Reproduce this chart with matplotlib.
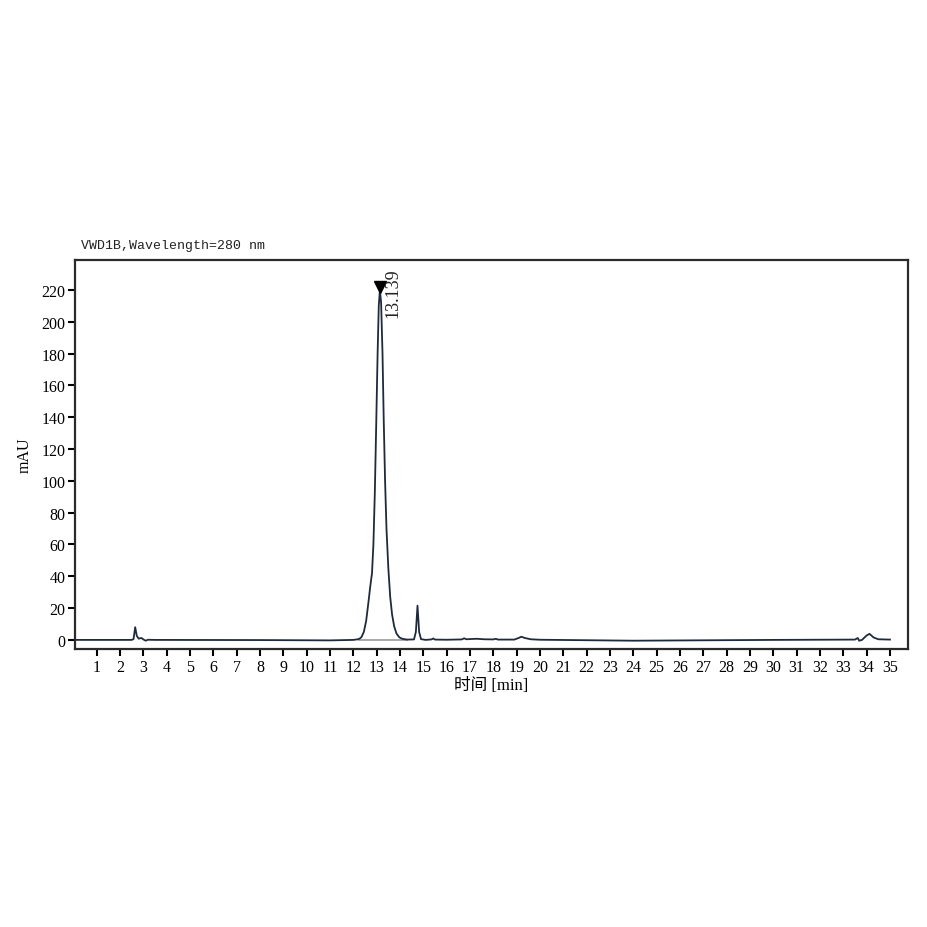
import numpy as np
import matplotlib
matplotlib.use("Agg")
import matplotlib.pyplot as plt

# chromatogram trace (time in min, signal in mAU)
time_min = [0.0, 2.5, 2.58, 2.65, 2.72, 2.8, 2.92, 3.0, 3.1, 3.2, 3.5,
            8.0, 11.0, 12.0, 12.2, 12.28, 12.35, 12.45, 12.55, 12.65, 12.72,
            12.8, 12.86, 12.92, 12.98, 13.04, 13.09, 13.139, 13.19, 13.25,
            13.3, 13.36, 13.42, 13.5, 13.58, 13.66, 13.75, 13.85, 13.97,
            14.1, 14.3, 14.6, 14.68, 14.75, 14.82, 14.9, 15.1, 15.35, 15.42,
            15.5, 16.0, 16.65, 16.75, 16.85, 17.1, 17.3, 17.6, 18.0, 18.1,
            18.2, 18.9, 19.1, 19.2, 19.35, 19.6, 20.0, 24.0, 30.0, 33.5,
            33.62, 33.68, 33.8, 34.0, 34.12, 34.3, 34.5, 35.0]
signal_mau = [0.0, 0.0, 0.5, 8.0, 2.5, 0.8, 1.2, 0.3, -0.5, 0.1, 0.0,
              -0.1, -0.3, 0.0, 0.4, 0.9, 1.8, 5.0, 12.0, 24.0, 33.0,
              42.0, 60.0, 92.0, 135.0, 180.0, 210.0, 220.0, 212.0, 180.0,
              140.0, 100.0, 70.0, 45.0, 27.0, 16.0, 8.5, 4.0, 1.6,
              0.7, 0.2, 0.3, 5.0, 21.5, 5.0, 0.5, 0.0, 0.3, 0.9,
              0.2, 0.1, 0.3, 1.0, 0.4, 0.6, 0.7, 0.4, 0.3, 0.7,
              0.2, 0.2, 1.3, 2.0, 1.2, 0.4, 0.1, -0.5, 0.0, 0.2,
              1.2, -0.5, 0.0, 2.8, 3.8, 1.5, 0.4, 0.2]

peak_time = 13.139
peak_height = 220.0
integration_start = 12.25
integration_end = 14.3

x_ticks = list(range(1, 36))
y_ticks = list(range(0, 221, 20))

serif = ['Liberation Serif', 'Noto Sans CJK SC']
plt.rcParams['font.family'] = serif

fig = plt.figure(figsize=(9.28, 9.28), dpi=100)
ax = fig.add_axes([0.0808, 0.2996, 0.8976, 0.4192])

line_color = '#1e2b3c'
ax.plot([integration_start, integration_end], [0, 0], color='#9a9a9a', lw=1.2)
ax.plot(time_min, signal_mau, color=line_color, lw=1.3)
ax.plot([peak_time], [peak_height + 2], marker='v', color='black', markersize=8)
ax.text(peak_time + 0.56, peak_height - 17, '13.139', rotation=90,
        ha='center', va='bottom', fontsize=13, color='#222222')

ax.set_xlim(0.07, 35.77)
ax.set_ylim(-5.7, 238.8)
ax.set_xticks(x_ticks)
ax.set_yticks(y_ticks)
ax.tick_params(axis='both', direction='out', length=5, width=1.5,
               labelsize=11.5, colors='black', pad=2)

for side in ['left', 'bottom', 'top', 'right']:
    ax.spines[side].set_color('#2b2b2b')
    ax.spines[side].set_linewidth(1.6)

ax.set_xlabel('时间 [min]', fontsize=12, labelpad=2)
ax.set_ylabel('mAU', fontsize=11.5, labelpad=6)

fig.text(0.0873, 0.735, 'VWD1B,Wavelength=280 nm', fontsize=9.5,
         family='Liberation Mono', ha='left', va='center', color='#222222')

fig.savefig('out.png', dpi=100)
